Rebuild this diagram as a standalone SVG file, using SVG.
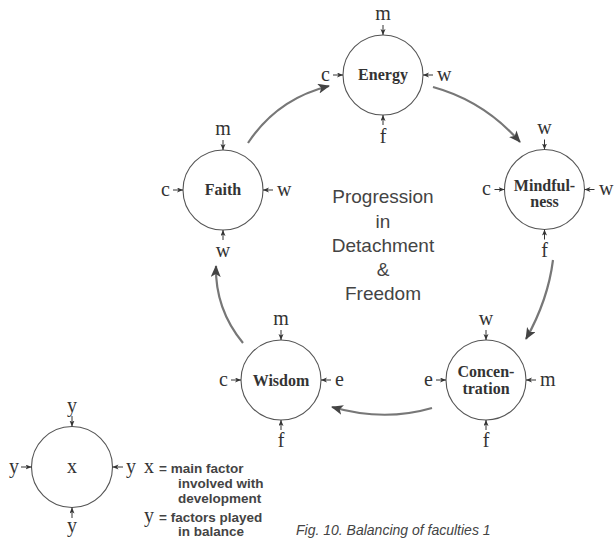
<svg xmlns="http://www.w3.org/2000/svg" width="614" height="539" viewBox="0 0 614 539">
  <defs>
    <style>
      .ring { fill: #fff; stroke: #555; stroke-width: 1.1; }
      .name { font-family: "Liberation Serif", "DejaVu Serif", serif; font-weight: bold; font-size: 16px; fill: #333; text-anchor: middle; }
      .fac { font-family: "Liberation Serif", "DejaVu Serif", serif; font-size: 20px; fill: #333; }
      .tick { stroke: #333; stroke-width: 1; fill: none; marker-end: url(#tip); }
      .flow { stroke: #777; stroke-width: 2.2; fill: none; marker-end: url(#head); }
      .center { font-family: "Liberation Sans", Arial, sans-serif; font-size: 19px; fill: #444; text-anchor: middle; }
      .key { font-family: "Liberation Sans", Arial, sans-serif; font-weight: bold; font-size: 13.5px; fill: #444; }
      .cap { font-family: "Liberation Sans", Arial, sans-serif; font-style: italic; font-size: 14px; fill: #444; }
    </style>
    <marker id="tip" markerUnits="userSpaceOnUse" markerWidth="7" markerHeight="6" refX="6" refY="2.5" orient="auto">
      <path d="M0,0 L6,2.5 L0,5 L1.6,2.5 z" fill="#333"/>
    </marker>
    <marker id="head" markerUnits="userSpaceOnUse" markerWidth="14" markerHeight="11" refX="11" refY="5" orient="auto">
      <path d="M0,0 L12,5 L0,10 L3,5 z" fill="#444"/>
    </marker>
  </defs>

  <!-- cycle connectors -->
  <g id="connectors">
    <path class="flow" d="M248,143 Q277,99 329,86"/>
    <path class="flow" d="M433,87 Q484,101 520,142"/>
    <path class="flow" d="M553,260 Q548,300 526,339"/>
    <path class="flow" d="M432,408 Q384,422 332,407"/>
    <path class="flow" d="M243,343 Q215,309 216,266"/>
  </g>

  <!-- Energy -->
  <g id="energy">
    <circle class="ring" cx="383" cy="75" r="40"/>
    <text class="name" x="383" y="80">Energy</text>
    <line class="tick" x1="383" y1="25" x2="383" y2="35"/>
    <line class="tick" x1="333" y1="75" x2="343" y2="75"/>
    <line class="tick" x1="433" y1="75" x2="423" y2="75"/>
    <line class="tick" x1="383" y1="125" x2="383" y2="115"/>
    <text class="fac" x="383" y="20" text-anchor="middle">m</text>
    <text class="fac" x="330" y="81" text-anchor="end">c</text>
    <text class="fac" x="437" y="81">w</text>
    <text class="fac" x="383" y="143" text-anchor="middle">f</text>
  </g>

  <!-- Faith -->
  <g id="faith">
    <circle class="ring" cx="223" cy="190" r="40"/>
    <text class="name" x="223" y="195">Faith</text>
    <line class="tick" x1="223" y1="140" x2="223" y2="150"/>
    <line class="tick" x1="173" y1="190" x2="183" y2="190"/>
    <line class="tick" x1="273" y1="190" x2="263" y2="190"/>
    <line class="tick" x1="223" y1="240" x2="223" y2="230"/>
    <text class="fac" x="223" y="135" text-anchor="middle">m</text>
    <text class="fac" x="170" y="196" text-anchor="end">c</text>
    <text class="fac" x="277" y="196">w</text>
    <text class="fac" x="223" y="257" text-anchor="middle">w</text>
  </g>

  <!-- Mindfulness -->
  <g id="mindfulness">
    <circle class="ring" cx="544.5" cy="189.5" r="40"/>
    <text class="name" x="544.5" y="191">Mindful-</text>
    <text class="name" x="544.5" y="207">ness</text>
    <line class="tick" x1="544.5" y1="139.5" x2="544.5" y2="149.5"/>
    <line class="tick" x1="494.5" y1="189.5" x2="504.5" y2="189.5"/>
    <line class="tick" x1="594.5" y1="189.5" x2="584.5" y2="189.5"/>
    <line class="tick" x1="544.5" y1="239.5" x2="544.5" y2="229.5"/>
    <text class="fac" x="544.5" y="134" text-anchor="middle">w</text>
    <text class="fac" x="491" y="195" text-anchor="end">c</text>
    <text class="fac" x="599" y="195">w</text>
    <text class="fac" x="544.5" y="257" text-anchor="middle">f</text>
  </g>

  <!-- Concentration -->
  <g id="concentration">
    <circle class="ring" cx="486" cy="380" r="40"/>
    <text class="name" x="486" y="377">Concen-</text>
    <text class="name" x="486" y="394">tration</text>
    <line class="tick" x1="486" y1="330" x2="486" y2="340"/>
    <line class="tick" x1="436" y1="380" x2="446" y2="380"/>
    <line class="tick" x1="536" y1="380" x2="526" y2="380"/>
    <line class="tick" x1="486" y1="430" x2="486" y2="420"/>
    <text class="fac" x="486" y="325" text-anchor="middle">w</text>
    <text class="fac" x="433" y="386" text-anchor="end">e</text>
    <text class="fac" x="540" y="386">m</text>
    <text class="fac" x="486" y="447" text-anchor="middle">f</text>
  </g>

  <!-- Wisdom -->
  <g id="wisdom">
    <circle class="ring" cx="281" cy="380" r="40"/>
    <text class="name" x="281" y="386">Wisdom</text>
    <line class="tick" x1="281" y1="330" x2="281" y2="340"/>
    <line class="tick" x1="231" y1="380" x2="241" y2="380"/>
    <line class="tick" x1="331" y1="380" x2="321" y2="380"/>
    <line class="tick" x1="281" y1="430" x2="281" y2="420"/>
    <text class="fac" x="281" y="325" text-anchor="middle">m</text>
    <text class="fac" x="228" y="386" text-anchor="end">c</text>
    <text class="fac" x="335" y="386">e</text>
    <text class="fac" x="281" y="447" text-anchor="middle">f</text>
  </g>

  <!-- centre caption -->
  <g id="theme">
    <text class="center" x="383" y="203">Progression</text>
    <text class="center" x="383" y="228">in</text>
    <text class="center" x="383" y="252">Detachment</text>
    <text class="center" x="383" y="276">&amp;</text>
    <text class="center" x="383" y="300">Freedom</text>
  </g>

  <!-- key -->
  <g id="legend">
    <circle class="ring" cx="72" cy="467" r="40.5"/>
    <text class="fac" x="72" y="473" text-anchor="middle">x</text>
    <line class="tick" x1="72" y1="416" x2="72" y2="426.5"/>
    <line class="tick" x1="21" y1="467" x2="31.5" y2="467"/>
    <line class="tick" x1="123" y1="467" x2="112.5" y2="467"/>
    <line class="tick" x1="72" y1="518" x2="72" y2="507.5"/>
    <text class="fac" x="72" y="412" text-anchor="middle">y</text>
    <text class="fac" x="19" y="473" text-anchor="end">y</text>
    <text class="fac" x="126" y="473">y</text>
    <text class="fac" x="72" y="532" text-anchor="middle">y</text>
  </g>

  <g id="legend-text">
    <text class="fac" x="144" y="473">x</text>
    <text class="key" x="159" y="473">= main factor</text>
    <text class="key" x="178" y="488">involved with</text>
    <text class="key" x="178" y="503">development</text>
    <text class="fac" x="144" y="522">y</text>
    <text class="key" x="159" y="522">= factors played</text>
    <text class="key" x="178" y="536">in balance</text>
    <text class="cap" x="296" y="535">Fig. 10. Balancing of faculties 1</text>
  </g>
</svg>
